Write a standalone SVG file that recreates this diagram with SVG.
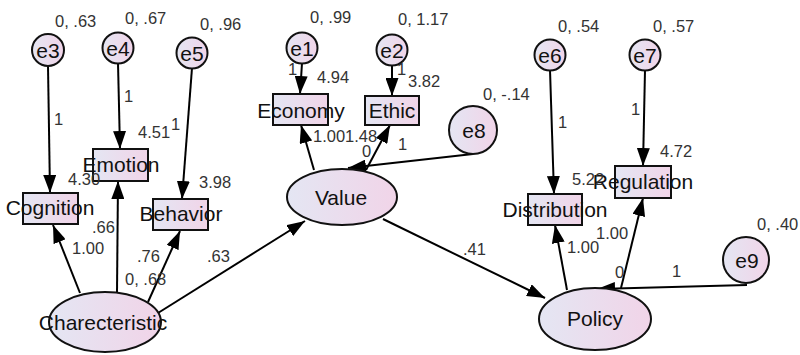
<svg xmlns="http://www.w3.org/2000/svg" width="800" height="355" viewBox="0 0 800 355">
<defs>
<linearGradient id="g" x1="0" y1="0" x2="1" y2="0">
<stop offset="0" stop-color="#e4e6f3"/>
<stop offset="1" stop-color="#f1d4e8"/>
</linearGradient>
<marker id="ah" markerUnits="userSpaceOnUse" markerWidth="18" markerHeight="13" refX="18" refY="6.5" orient="auto">
<path d="M0,0 L18,6.5 L0,13 z" fill="#000"/>
</marker>
<style>
.n{fill:url(#g);stroke:#111;stroke-width:2}
.t{font-family:"Liberation Sans",Arial,sans-serif;font-size:21px;fill:#111;text-anchor:middle}
.e{font-family:"Liberation Sans",Arial,sans-serif;font-size:21px;fill:#111;text-anchor:middle}
.l{font-family:"Liberation Sans",Arial,sans-serif;font-size:16.5px;fill:#333}
.c{fill:none;stroke:#000;stroke-width:2;marker-end:url(#ah)}
</style>
</defs>
<rect width="800" height="355" fill="#fff"/>
<g id="connectors">
<path class="c" d="M48,66 L50,193"/>
<path class="c" d="M118,63 L120,149"/>
<path class="c" d="M192,68 L182,199"/>
<path class="c" d="M302,63 L300,94"/>
<path class="c" d="M392,65 L392,96"/>
<path class="c" d="M80,293 L53,225"/>
<path class="c" d="M117,292 L118,181"/>
<path class="c" d="M148,302 L180,231"/>
<path class="c" d="M158,313 L305,221"/>
<path class="c" d="M314,170 L301,125"/>
<path class="c" d="M366,170 L390,125"/>
<path class="c" d="M473,154 L348,168"/>
<path class="c" d="M383,219 L545,298"/>
<path class="c" d="M550,70 L554,194"/>
<path class="c" d="M645,70 L643,166"/>
<path class="c" d="M567,290 L555,225"/>
<path class="c" d="M621,288 L643,198"/>
<path class="c" d="M747,285 L597,289"/>
</g>
<g id="e3"><circle class="n" cx="48" cy="50" r="16"/><text class="e" x="48" y="57.5">e3</text></g>
<g id="e4"><circle class="n" cx="118" cy="48" r="15.5"/><text class="e" x="118" y="55.5">e4</text></g>
<g id="e5"><circle class="n" cx="192" cy="53" r="15.5"/><text class="e" x="192" y="60.5">e5</text></g>
<g id="e1"><circle class="n" cx="302" cy="48" r="15.5"/><text class="e" x="302" y="55.5">e1</text></g>
<g id="e2"><circle class="n" cx="392" cy="50" r="15.5"/><text class="e" x="392" y="57.5">e2</text></g>
<g id="e6"><circle class="n" cx="550" cy="55" r="15.5"/><text class="e" x="550" y="62.5">e6</text></g>
<g id="e7"><circle class="n" cx="645" cy="55" r="15.5"/><text class="e" x="645" y="62.5">e7</text></g>
<g id="e8"><circle class="n" cx="473" cy="130" r="24"/><text class="e" x="474" y="137.5">e8</text></g>
<g id="e9"><circle class="n" cx="746" cy="260" r="23"/><text class="e" x="747" y="267.5">e9</text></g>
<g id="Economy"><rect class="n" x="273" y="94" width="55" height="31"/><text class="t" x="301" y="118">Economy</text></g>
<g id="Ethic"><rect class="n" x="365" y="96" width="54" height="29"/><text class="t" x="392" y="118">Ethic</text></g>
<g id="Emotion"><rect class="n" x="93" y="149" width="55" height="32"/><text class="t" x="121" y="172">Emotion</text></g>
<g id="Cognition"><rect class="n" x="23" y="193" width="55" height="31"/><text class="t" x="50" y="215">Cognition</text></g>
<g id="Behavior"><rect class="n" x="153" y="199" width="55" height="31"/><text class="t" x="181" y="221">Behavior</text></g>
<g id="Distribution"><rect class="n" x="528" y="194" width="54" height="31"/><text class="t" x="555" y="217">Distribution</text></g>
<g id="Regulation"><rect class="n" x="615" y="166" width="56" height="32"/><text class="t" x="643" y="189">Regulation</text></g>
<g id="Value"><ellipse class="n" cx="342" cy="197" rx="55" ry="28"/><text class="t" x="341" y="205">Value</text></g>
<g id="Charecteristic"><ellipse class="n" cx="105" cy="322" rx="56" ry="30"/><text class="t" x="103" y="330">Charecteristic</text></g>
<g id="Policy"><ellipse class="n" cx="595" cy="319" rx="56" ry="31"/><text class="t" x="595" y="326">Policy</text></g>
<g id="labels">
<text class="l" x="55" y="27">0, .63</text>
<text class="l" x="125" y="24">0, .67</text>
<text class="l" x="200" y="30">0, .96</text>
<text class="l" x="54" y="125">1</text>
<text class="l" x="124" y="102">1</text>
<text class="l" x="171" y="130">1</text>
<text class="l" x="138" y="138">4.51</text>
<text class="l" x="68" y="185">4.30</text>
<text class="l" x="199" y="188">3.98</text>
<text class="l" x="92" y="233">.66</text>
<text class="l" x="72" y="254">1.00</text>
<text class="l" x="137" y="262">.76</text>
<text class="l" x="125" y="285">0, .68</text>
<text class="l" x="207" y="262">.63</text>
<text class="l" x="310" y="23">0, .99</text>
<text class="l" x="398" y="25">0, 1.17</text>
<text class="l" x="288" y="75">1</text>
<text class="l" x="317" y="83">4.94</text>
<text class="l" x="397" y="75">1</text>
<text class="l" x="408" y="87">3.82</text>
<text class="l" x="483" y="100">0, -.14</text>
<text class="l" x="313" y="142">1.00</text>
<text class="l" x="345" y="142">1.48</text>
<text class="l" x="362" y="157">0</text>
<text class="l" x="398" y="150">1</text>
<text class="l" x="463" y="255">.41</text>
<text class="l" x="558" y="32">0, .54</text>
<text class="l" x="653" y="32">0, .57</text>
<text class="l" x="558" y="128">1</text>
<text class="l" x="631" y="115">1</text>
<text class="l" x="660" y="157">4.72</text>
<text class="l" x="572" y="185">5.22</text>
<text class="l" x="596" y="239">1.00</text>
<text class="l" x="567" y="253">1.00</text>
<text class="l" x="757" y="230">0, .40</text>
<text class="l" x="615" y="278">0</text>
<text class="l" x="672" y="277">1</text>
</g>
</svg>
